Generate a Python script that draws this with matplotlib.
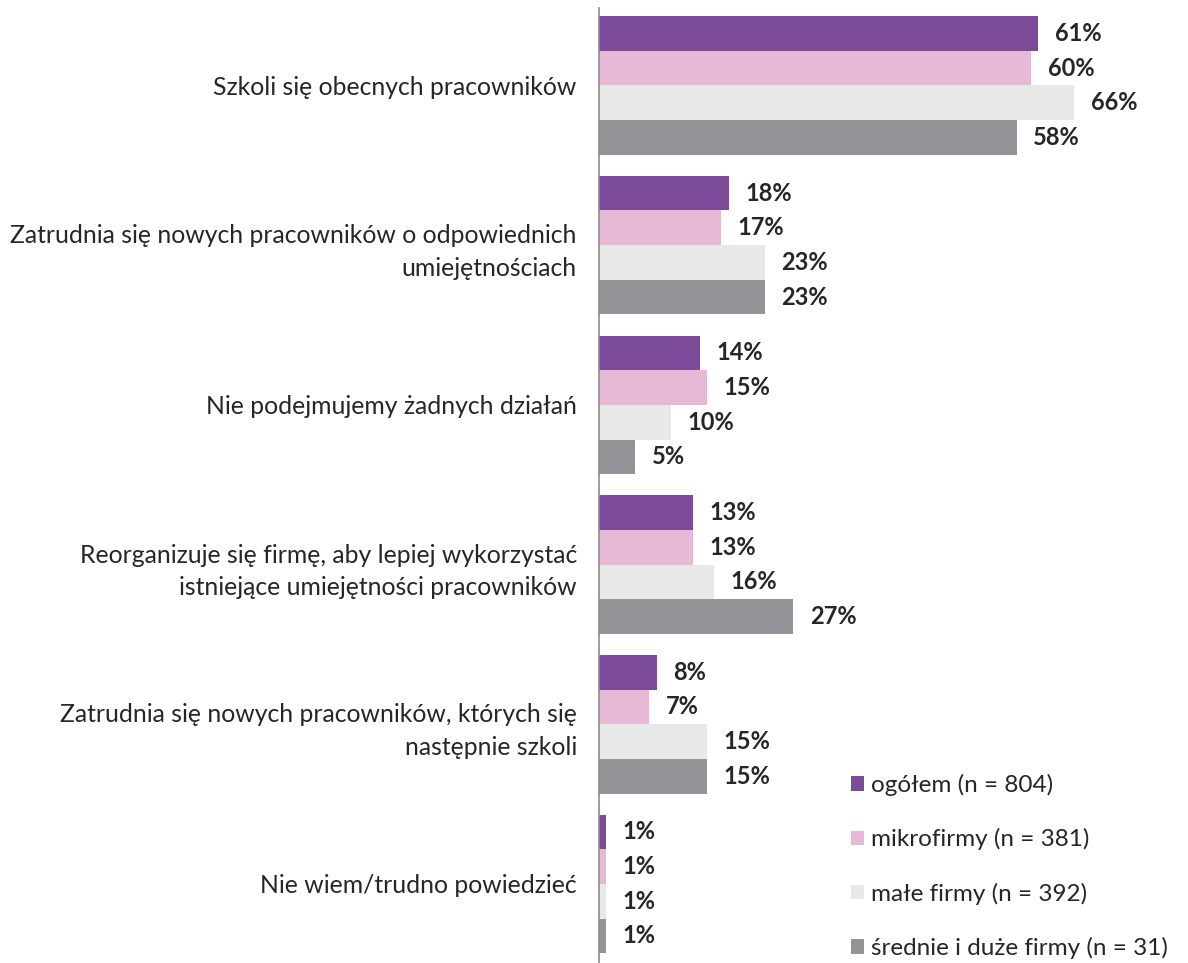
import numpy as np
import matplotlib.pyplot as plt
from matplotlib.patches import Patch

plt.rcParams['font.family'] = ['Lato', 'DejaVu Sans']

# data
categories = [
    'Szkoli się obecnych pracowników',
    'Zatrudnia się nowych pracowników o odpowiednich\numiejętnościach',
    'Nie podejmujemy żadnych działań',
    'Reorganizuje się firmę, aby lepiej wykorzystać\nistniejące umiejętności pracowników',
    'Zatrudnia się nowych pracowników, których się\nnastępnie szkoli',
    'Nie wiem/trudno powiedzieć',
]
series_names = ['ogółem (n = 804)', 'mikrofirmy (n = 381)',
                'małe firmy (n = 392)', 'średnie i duże firmy (n = 31)']
ogolem = [61, 18, 14, 13, 8, 1]
mikro = [60, 17, 15, 13, 7, 1]
male = [66, 23, 10, 16, 15, 1]
srednie = [58, 23, 5, 27, 15, 1]
colors = ['#7b4b9a', '#e8b9d6', '#e8e8e8', '#939497']

values = [ogolem, mikro, male, srednie]

fig = plt.figure(figsize=(11.88, 9.63), dpi=100)
ax = fig.add_axes([599 / 1188, 0, 589 / 1188, 955 / 963])

y = np.arange(len(categories))
h = 0.217
for k, (vals, col) in enumerate(zip(values, colors)):
    pos = y - 1.5 * h + k * h
    ax.barh(pos, vals, height=h, color=col, edgecolor='none')
    for p, v in zip(pos, vals):
        ax.text(v + 2.3, p, f'{v}%', va='center', ha='left',
                fontsize=17, fontweight='bold', color='#262626')

ax.set_xlim(0, 589 / 7.2)
ax.set_ylim(5.495, -0.485)
ax.set_yticks(y)
ax.set_yticklabels(categories, fontsize=17.8, color='#262626', linespacing=1.5)
ax.tick_params(axis='y', length=0, pad=16)
ax.set_xticks([])
for s in ['top', 'right', 'bottom']:
    ax.spines[s].set_visible(False)
ax.spines['left'].set_color('#8c8c8c')
ax.spines['left'].set_linewidth(1.2)

handles = [Patch(facecolor=c, edgecolor='none') for c in colors]
ax.legend(handles, series_names, loc='lower left', bbox_to_anchor=(0.395, -0.016),
          frameon=False, fontsize=17.5, labelspacing=1.32, handlelength=0.55,
          handleheight=0.55, handletextpad=0.25, labelcolor='#262626',
          borderpad=0.3)

plt.savefig('out.png', dpi=100)
